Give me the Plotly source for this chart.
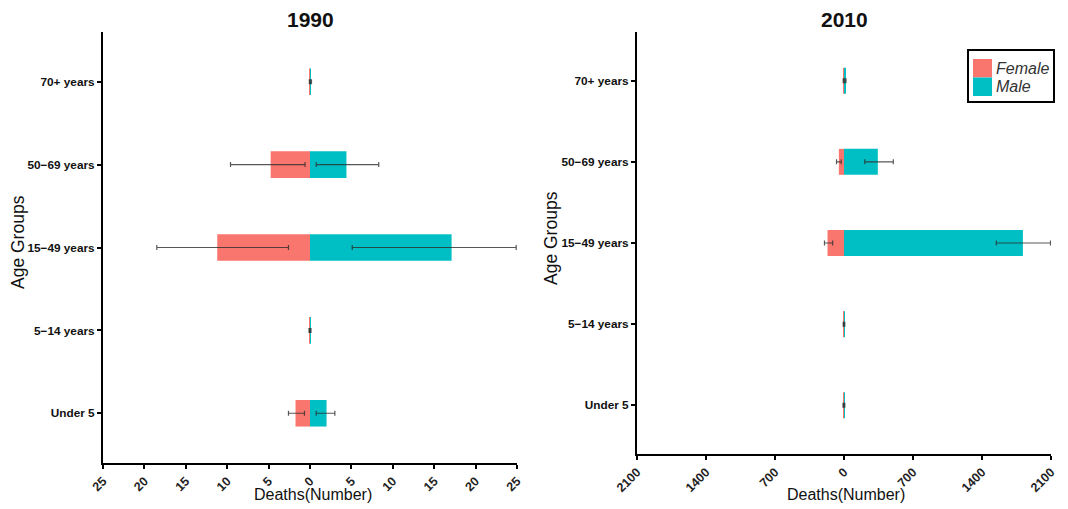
import plotly.graph_objects as go

age_groups = ["Under 5", "5−14 years", "15−49 years", "50−69 years", "70+ years"]

# 1990 (deaths, female shown as negative)
f1990 = [-1.75, -0.05, -11.2, -4.75, -0.03]
f1990_lo = [-2.6, -0.12, -18.5, -9.6, -0.08]
f1990_hi = [-0.67, 0.0, -2.6, -0.6, 0.0]
m1990 = [2.0, 0.05, 17.1, 4.4, 0.12]
m1990_lo = [0.75, 0.0, 5.1, 0.75, 0.05]
m1990_hi = [3.0, 0.12, 24.9, 8.3, 0.18]

# 2010
f2010 = [-5, -4, -167, -52, -4]
f2010_lo = [-10, -8, -198, -76, -8]
f2010_hi = [0, 0, -115, -28, 0]
m2010 = [4, 4, 1815, 343, 12]
m2010_lo = [1, 1, 1545, 211, 6]
m2010_hi = [8, 8, 2095, 500, 20]

ticks1990 = [-25, -20, -15, -10, -5, 0, 5, 10, 15, 20, 25]
ticks2010 = [-2100, -1400, -700, 0, 700, 1400, 2100]

sexes = ["Female", "Male"]

FEMALE = "#F8766D"
MALE = "#00BFC4"
ERR = "rgba(45,45,45,0.8)"
FONT = "Liberation Sans, Arial, sans-serif"

# page body has an 8px margin; the figure is laid out in reference pixel
# coordinates shifted by that margin
OFF = 8
W, H = 1068 - OFF, 509 - OFF

def px(x):
    return (x - OFF) / W

def py(y):
    return 1 - (y - OFF) / H

def err(vals, lo, hi):
    return dict(type="data", symmetric=False,
                array=[h - v for v, h in zip(vals, hi)],
                arrayminus=[v - l for v, l in zip(vals, lo)],
                color=ERR, thickness=1.2, width=2.5)

fig = go.Figure()
for vals, lo, hi, name, col, xa, ya in [
    (f1990, f1990_lo, f1990_hi, "Female", FEMALE, "x", "y"),
    (m1990, m1990_lo, m1990_hi, "Male", MALE, "x", "y"),
    (f2010, f2010_lo, f2010_hi, "Female", FEMALE, "x2", "y2"),
    (m2010, m2010_lo, m2010_hi, "Male", MALE, "x2", "y2"),
]:
    fig.add_trace(go.Bar(
        y=age_groups, x=vals, orientation="h", name=name,
        marker=dict(color=col, line=dict(width=0)),
        width=0.32, error_x=err(vals, lo, hi),
        xaxis=xa, yaxis=ya, showlegend=False,
    ))

axis_common = dict(showline=True, linecolor="black", linewidth=2,
                   ticks="outside", ticklen=4, tickwidth=2, tickcolor="black",
                   showgrid=False, zeroline=False, automargin=False)

XT = dict(size=12.5, weight="bold", color="#222")
YT = dict(size=11.8, weight="bold", color="#111")

fig.update_layout(
    template="none",
    width=W, height=H,
    margin=dict(l=0, r=0, t=0, b=0, autoexpand=False),
    plot_bgcolor="white", paper_bgcolor="white",
    barmode="overlay", showlegend=False,
    font=dict(family=FONT, color="black"),
    xaxis=dict(domain=[px(103), px(517)], range=[-25, 25],
               tickvals=ticks1990, ticktext=[str(abs(t)) for t in ticks1990],
               tickangle=-45, tickfont=XT, anchor="y", **axis_common),
    yaxis=dict(domain=[py(463), py(32)], range=[-0.6, 4.6],
               type="category", categoryorder="array", categoryarray=age_groups,
               tickfont=YT, anchor="x", **axis_common),
    xaxis2=dict(domain=[px(637), px(1051)], range=[-2100, 2100],
                tickvals=ticks2010, ticktext=[str(abs(t)) for t in ticks2010],
                tickangle=-45, tickfont=XT, anchor="y2", **axis_common),
    yaxis2=dict(domain=[py(454), py(32)], range=[-0.6, 4.6],
                type="category", categoryorder="array", categoryarray=age_groups,
                tickfont=YT, anchor="x2", **axis_common),
)

annotations = [
    dict(text="<b>1990</b>", x=310, y=20, font=dict(size=21)),
    dict(text="<b>2010</b>", x=844, y=20, font=dict(size=21)),
    dict(text="Deaths(Number)", x=313, y=494, font=dict(size=16)),
    dict(text="Deaths(Number)", x=846, y=494, font=dict(size=16)),
    dict(text="Age Groups", x=18, y=242, font=dict(size=17.5), textangle=-90),
    dict(text="Age Groups", x=551, y=238, font=dict(size=17.5), textangle=-90),
]
for a in annotations:
    fig.add_annotation(text=a["text"], x=px(a["x"]), y=py(a["y"]),
                       xref="paper", yref="paper", showarrow=False,
                       xanchor="center", yanchor="middle",
                       font=dict(family=FONT, color="#111", **a["font"]),
                       textangle=a.get("textangle", 0))

# legend box drawn in the top-right of the 2010 panel
fig.add_shape(type="rect", xref="paper", yref="paper",
              x0=px(968), x1=px(1054), y0=py(102), y1=py(50),
              line=dict(color="black", width=2), fillcolor="white")
for i, (name, col) in enumerate(zip(sexes, [FEMALE, MALE])):
    top = 59 + i * 18.5
    fig.add_shape(type="rect", xref="paper", yref="paper",
                  x0=px(973), x1=px(992), y0=py(top + 18.5), y1=py(top),
                  line=dict(width=0), fillcolor=col)
    fig.add_annotation(text=name, x=px(994), y=py(top + 9.5),
                       xref="paper", yref="paper", showarrow=False,
                       xanchor="left", yanchor="middle",
                       font=dict(family=FONT, size=16, style="italic", color="#333"))

fig.write_html("out.html")
